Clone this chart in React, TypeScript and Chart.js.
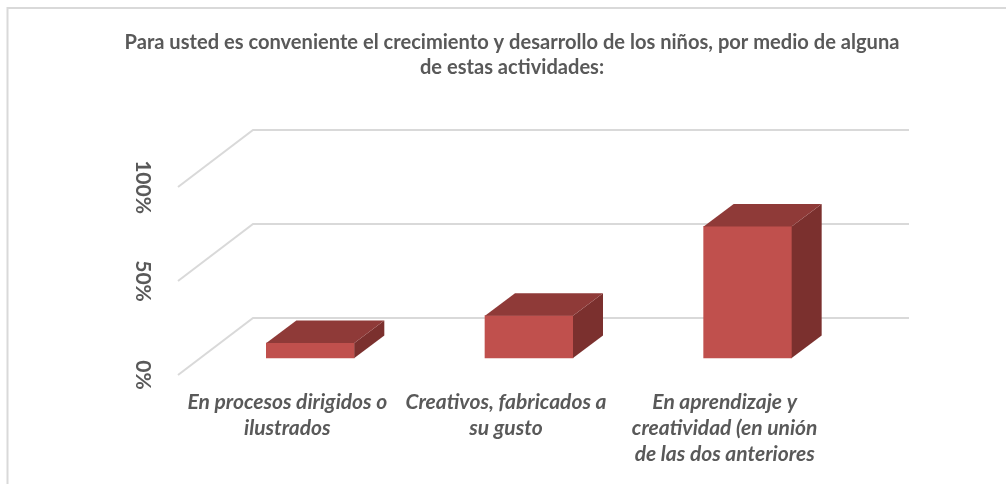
import React, { useEffect, useRef } from "react";
import { Chart, registerables } from "chart.js";

Chart.register(...registerables);

const categories = [
  ["En procesos dirigidos o", "ilustrados"],
  ["Creativos, fabricados a", "su gusto"],
  ["En aprendizaje y", "creatividad (en unión", "de las dos anteriores"],
];
const values = [8, 22.5, 70];
const yTicks = [0, 50, 100];
const titleLines = [
  "Para usted es conveniente el crecimiento y desarrollo de los niños, por medio de alguna",
  "de estas actividades:",
];

const FRONT = "#c0504d";
const TOP = "#8f3a38";
const SIDE = "#7b302e";
const GRID = "#d9d9d9";
const TEXT = "#595959";
const FONT = "Lato, Carlito, sans-serif";

// floor perspective, in pixels
const PLANE = { dx: 22.5, dy: -17 };
const BAR_DEPTH = { dx: 30, dy: -22.5 };
const FLOOR_DEPTH = { dx: 75, dy: -57 };

const poly = (ctx: CanvasRenderingContext2D, pts: number[][], fill: string) => {
  ctx.beginPath();
  pts.forEach(([x, y], i) => (i ? ctx.lineTo(x, y) : ctx.moveTo(x, y)));
  ctx.closePath();
  ctx.fillStyle = fill;
  ctx.fill();
};

const threeD = {
  id: "threeD",
  beforeDraw(chart: any) {
    const { ctx, width } = chart;
    ctx.save();
    ctx.fillStyle = "#ffffff";
    ctx.fillRect(0, 0, width, chart.height);
    ctx.strokeStyle = GRID;
    ctx.lineWidth = 2;
    ctx.beginPath();
    ctx.moveTo(7.5, chart.height);
    ctx.lineTo(7.5, 8);
    ctx.lineTo(width, 8);
    ctx.stroke();
    ctx.restore();
  },
  beforeDatasetsDraw(chart: any) {
    const { ctx, chartArea, scales } = chart;
    ctx.save();
    ctx.strokeStyle = GRID;
    ctx.lineWidth = 2;
    scales.y.ticks.forEach((t: any) => {
      const y = scales.y.getPixelForValue(t.value);
      ctx.beginPath();
      ctx.moveTo(chartArea.left, y);
      ctx.lineTo(chartArea.left + FLOOR_DEPTH.dx, y + FLOOR_DEPTH.dy);
      ctx.lineTo(chartArea.right + FLOOR_DEPTH.dx, y + FLOOR_DEPTH.dy);
      ctx.stroke();
    });
    ctx.restore();
  },
  beforeDatasetDraw(chart: any) {
    chart.ctx.save();
    chart.ctx.translate(PLANE.dx + 0.5, PLANE.dy);
  },
  afterDatasetDraw(chart: any, args: any) {
    const { ctx } = chart;
    args.meta.data.forEach((bar: any) => {
      const { x, y, base, width } = bar.getProps(["x", "y", "base", "width"], true);
      const l = x - width / 2;
      const r = x + width / 2;
      const { dx, dy } = BAR_DEPTH;
      poly(ctx, [[r, y], [r + dx, y + dy], [r + dx, base + dy], [r, base]], SIDE);
      poly(ctx, [[l, y], [l + dx, y + dy], [r + dx, y + dy], [r, y]], TOP);
    });
    ctx.restore();
  },
};

export default function App() {
  const ref = useRef<HTMLCanvasElement>(null);
  useEffect(() => {
    const chart = new Chart(ref.current!, {
      type: "bar",
      data: {
        labels: categories,
        datasets: [
          {
            data: values,
            backgroundColor: FRONT,
            barThickness: 88,
            clip: false,
          } as any,
        ],
      },
      plugins: [threeD],
      options: {
        animation: false,
        responsive: false,
        layout: { padding: { left: 18, right: 0, top: 0, bottom: 0 } },
        plugins: {
          legend: { display: false },
          tooltip: { enabled: false },
          title: {
            display: true,
            text: titleLines,
            color: TEXT,
            font: { family: FONT, size: 20.1, weight: "bold", lineHeight: "25px" },
            padding: { top: 30.5, bottom: 106.5 },
          },
        },
        scales: {
          x: {
            grid: { display: false },
            border: { display: false },
            ticks: {
              color: TEXT,
              maxRotation: 0,
              minRotation: 0,
              autoSkip: false,
              padding: 6,
              font: { family: FONT, size: 21, weight: "bold", style: "italic", lineHeight: "26px" },
            },
            afterFit(s: any) {
              s.height = 109;
            },
          },
          y: {
            min: 0,
            max: 100,
            grid: { display: false },
            border: { display: false },
            afterBuildTicks(s: any) {
              s.ticks = yTicks.map((value) => ({ value }));
            },
            ticks: {
              color: TEXT,
              minRotation: -90,
              maxRotation: -90,
              crossAlign: "center",
              padding: 0,
              callback: (v: any) => `${v}%`,
              font: { family: FONT, size: 21, weight: "bold" },
            },
            afterFit(s: any) {
              s.width = 160;
            },
          },
          spacer: {
            type: "linear",
            position: "right",
            display: true,
            grid: { display: false },
            border: { display: false },
            ticks: { display: false },
            afterFit(s: any) {
              s.width = 172;
            },
          },
        },
      } as any,
    });
    return () => chart.destroy();
  }, []);
  return (
    <canvas
      ref={ref}
      width={1006}
      height={484}
      style={{ position: "absolute", left: 0, top: 0, display: "block" }}
    />
  );
}
